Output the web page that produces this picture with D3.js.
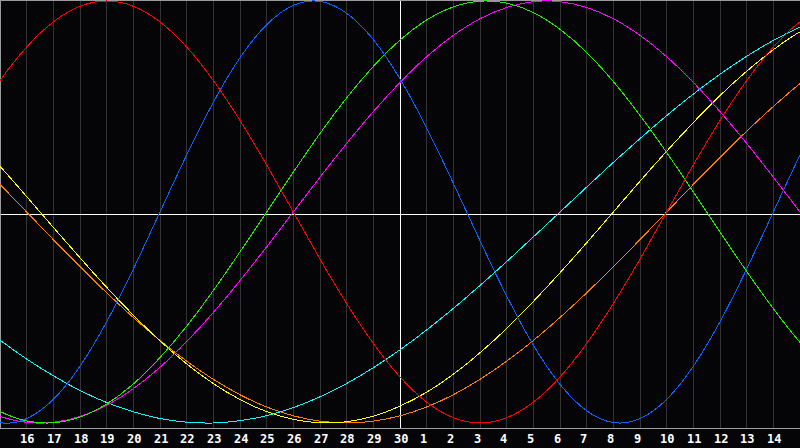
<!DOCTYPE html>
<html>
<head>
<meta charset="utf-8">
<script src="https://cdn.jsdelivr.net/npm/d3@7"></script>
<style>
  html, body { margin: 0; padding: 0; background: #050507; }
  svg { display: block; }
</style>
</head>
<body>
<svg id="chart" width="800" height="448"></svg>
<script>
// Day sequence: index 0 = day 14 (just before left edge) ... index 32 = day 16 (just after right edge)
const days = ["14","15","16","17","18","19","20","21","22","23","24","25","26","27","28","29","30",
              "1","2","3","4","5","6","7","8","9","10","11","12","13","14","15","16"];
const todayLabel = "30";

// Cycle values (-1 .. 1) read per day from the picture
const red     = [0.434,0.623,0.782,0.901,0.975,1,0.975,0.901,0.782,0.623,0.434,0.223,0,-0.223,-0.434,-0.623,-0.782,-0.901,-0.975,-1,-0.975,-0.901,-0.782,-0.623,-0.434,-0.223,0,0.223,0.434,0.623,0.782,0.901,0.975];
const blue    = [-0.942,-0.998,-0.979,-0.888,-0.731,-0.520,-0.270,0,0.270,0.520,0.731,0.888,0.979,0.998,0.942,0.817,0.631,0.398,0.136,-0.136,-0.398,-0.631,-0.817,-0.942,-0.998,-0.979,-0.888,-0.731,-0.520,-0.270,0,0.270,0.520];
const green   = [-0.866,-0.945,-0.990,-0.999,-0.972,-0.910,-0.815,-0.690,-0.541,-0.372,-0.189,0,0.189,0.372,0.541,0.690,0.815,0.910,0.972,0.999,0.990,0.945,0.866,0.756,0.618,0.458,0.282,0.095,-0.095,-0.282,-0.458,-0.618,-0.756];
const magenta = [-0.916,-0.969,-0.997,-0.997,-0.969,-0.916,-0.837,-0.736,-0.614,-0.476,-0.325,-0.165,0,0.165,0.325,0.476,0.614,0.736,0.837,0.916,0.969,0.997,0.997,0.969,0.916,0.837,0.736,0.614,0.476,0.325,0.165,0,-0.165];
const cyan    = [-0.509,-0.607,-0.697,-0.776,-0.846,-0.903,-0.947,-0.979,-0.996,-1.000,-0.989,-0.965,-0.927,-0.876,-0.813,-0.738,-0.653,-0.559,-0.457,-0.348,-0.235,-0.118,0,0.118,0.235,0.348,0.457,0.559,0.653,0.738,0.813,0.876,0.927];
const yellow  = [0.357,0.217,0.073,-0.073,-0.217,-0.357,-0.489,-0.611,-0.720,-0.813,-0.889,-0.946,-0.983,-0.999,-0.994,-0.968,-0.920,-0.854,-0.769,-0.667,-0.552,-0.424,-0.288,-0.146,0,0.146,0.288,0.424,0.552,0.667,0.769,0.854,0.920];
const orange  = [0.259,0.131,0,-0.131,-0.259,-0.383,-0.5,-0.609,-0.707,-0.793,-0.866,-0.924,-0.966,-0.991,-1,-0.991,-0.966,-0.924,-0.866,-0.793,-0.707,-0.609,-0.5,-0.383,-0.259,-0.131,0,0.131,0.259,0.383,0.5,0.609,0.707];

// Tick labels shown under the grid (indices 2..30 of days)
const tickIdx = d3.range(2, 31);

const series = [
  { name: "orange",  values: orange,  color: "#ff8000" },
  { name: "yellow",  values: yellow,  color: "#ffff00" },
  { name: "cyan",    values: cyan,    color: "#00ffff" },
  { name: "magenta", values: magenta, color: "#ff00ff" },
  { name: "green",   values: green,   color: "#22ee00" },
  { name: "blue",    values: blue,    color: "#0a64ff" },
  { name: "red",     values: red,     color: "#ff0000" }
];

const W = 800, plotH = 428;
const svg = d3.select("#chart");

const x = d3.scaleLinear().domain([1, 31]).range([0, W]);
const y = d3.scaleLinear().domain([-1, 1]).range([423, 1]);

svg.append("rect").attr("x", 0).attr("y", 0).attr("width", W).attr("height", 448).attr("fill", "#050507");

svg.append("defs").append("clipPath").attr("id", "plot")
  .append("rect").attr("x", 0).attr("y", 0).attr("width", W).attr("height", plotH);

// vertical grid lines
const gridIdx = d3.range(2, 31);
svg.append("g").selectAll("rect").data(gridIdx).join("rect")
  .attr("x", d => Math.floor(x(d)))
  .attr("y", 1)
  .attr("width", 1)
  .attr("height", plotH - 1)
  .attr("fill", d => days[d] === todayLabel && d === 16 ? "#ffffff" : "#333333");

// zero line
svg.append("rect").attr("x", 0).attr("y", 214).attr("width", W).attr("height", 1).attr("fill", "#ffffff");

// borders
svg.append("rect").attr("x", 0).attr("y", 0).attr("width", W).attr("height", 1).attr("fill", "#9a9a9a");
svg.append("rect").attr("x", 0).attr("y", 0).attr("width", 1).attr("height", plotH).attr("fill", "#9a9a9a");
svg.append("rect").attr("x", 0).attr("y", plotH).attr("width", W).attr("height", 1).attr("fill", "#a0a0a0");

// curves
const line = d3.line()
  .x((d, i) => x(i))
  .y(d => y(d))
  .curve(d3.curveNatural);

svg.append("g").attr("clip-path", "url(#plot)")
  .selectAll("path").data(series).join("path")
  .attr("d", d => line(d.values))
  .attr("fill", "none")
  .attr("stroke", d => d.color)
  .attr("stroke-width", 1)
  .attr("shape-rendering", "crispEdges");

// day labels
svg.append("g").selectAll("text").data(tickIdx).join("text")
  .attr("x", d => Math.floor(x(d)) - 6)
  .attr("y", 443)
  .attr("text-anchor", "start")
  .attr("fill", "#ffffff")
  .style("font-family", "'DejaVu Sans Mono', monospace")
  .style("font-weight", "bold")
  .style("font-size", "12px")
  .text(d => days[d]);
</script>
</body>
</html>
